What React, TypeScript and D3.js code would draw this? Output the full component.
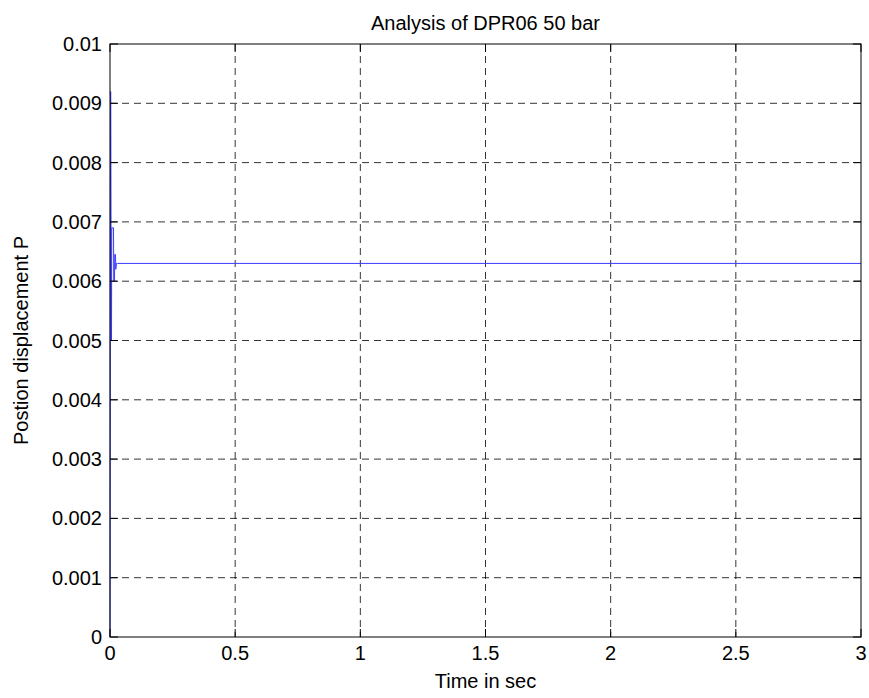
import React from "react";
import * as d3 from "d3";

const title = "Analysis of DPR06 50 bar";
const xLabel = "Time in sec";
const yLabel = "Postion displacement P";
const xTicks = [0, 0.5, 1, 1.5, 2, 2.5, 3];
const yTicks = [0, 0.001, 0.002, 0.003, 0.004, 0.005, 0.006, 0.007, 0.008, 0.009, 0.01];
const timeValues = [0, 0.002, 0.003, 0.005, 0.006, 0.007, 0.014, 0.015, 0.018, 0.019, 0.022, 0.023, 0.026, 0.03, 3];
const posValues = [0, 0.0092, 0.0092, 0.005, 0.005, 0.0069, 0.0069, 0.006, 0.006, 0.00645, 0.00645, 0.0062, 0.0063, 0.0063, 0.0063];

const W = 869;
const H = 698;
const M = { left: 110, right: 861, top: 44, bottom: 637 };

export default function App() {
  const x = d3.scaleLinear().domain([0, 3]).range([M.left, M.right]);
  const y = d3.scaleLinear().domain([0, 0.01]).range([M.bottom, M.top]);
  const pts = timeValues.map((t, i) => [t, posValues[i]] as [number, number]);
  const line = d3.line<[number, number]>().x((d) => x(d[0])).y((d) => y(d[1]));
  const font = "Liberation Sans, Arial, sans-serif";
  const fs = 20;
  const tickLen = 8;
  return (
    <svg width={W} height={H} style={{ position: "absolute", left: 0, top: 0, background: "#fff" }}>
      <rect x={0} y={0} width={W} height={H} fill="#fff" />
      {xTicks.slice(1, -1).map((t) => (
        <line key={"gx" + t} x1={x(t)} x2={x(t)} y1={M.top} y2={M.bottom} stroke="#000" strokeWidth={0.8} strokeDasharray="7,5" />
      ))}
      {yTicks.slice(1, -1).map((t) => (
        <line key={"gy" + t} x1={M.left} x2={M.right} y1={y(t)} y2={y(t)} stroke="#000" strokeWidth={0.8} strokeDasharray="7,5" />
      ))}
      <path d={line(pts) || ""} fill="none" stroke="#3a3aff" strokeWidth={1} />
      <rect x={M.left} y={M.top} width={M.right - M.left} height={M.bottom - M.top} fill="none" stroke="#000" strokeWidth={1} />
      {xTicks.map((t) => (
        <g key={"tx" + t}>
          <line x1={x(t)} x2={x(t)} y1={M.bottom} y2={M.bottom - tickLen} stroke="#000" />
          <line x1={x(t)} x2={x(t)} y1={M.top} y2={M.top + tickLen} stroke="#000" />
          <text x={x(t)} y={M.bottom + 23} textAnchor="middle" fontFamily={font} fontSize={fs}>{t}</text>
        </g>
      ))}
      {yTicks.map((t) => (
        <g key={"ty" + t}>
          <line x1={M.left} x2={M.left + tickLen} y1={y(t)} y2={y(t)} stroke="#000" />
          <line x1={M.right} x2={M.right - tickLen} y1={y(t)} y2={y(t)} stroke="#000" />
          <text x={M.left - 8} y={y(t)} dy="0.35em" textAnchor="end" fontFamily={font} fontSize={fs}>{t}</text>
        </g>
      ))}
      <text x={(M.left + M.right) / 2} y={30} textAnchor="middle" fontFamily={font} fontSize={fs}>{title}</text>
      <text x={(M.left + M.right) / 2} y={688} textAnchor="middle" fontFamily={font} fontSize={fs}>{xLabel}</text>
      <text transform={`translate(28,${(M.top + M.bottom) / 2}) rotate(-90)`} textAnchor="middle" fontFamily={font} fontSize={fs}>{yLabel}</text>
    </svg>
  );
}
